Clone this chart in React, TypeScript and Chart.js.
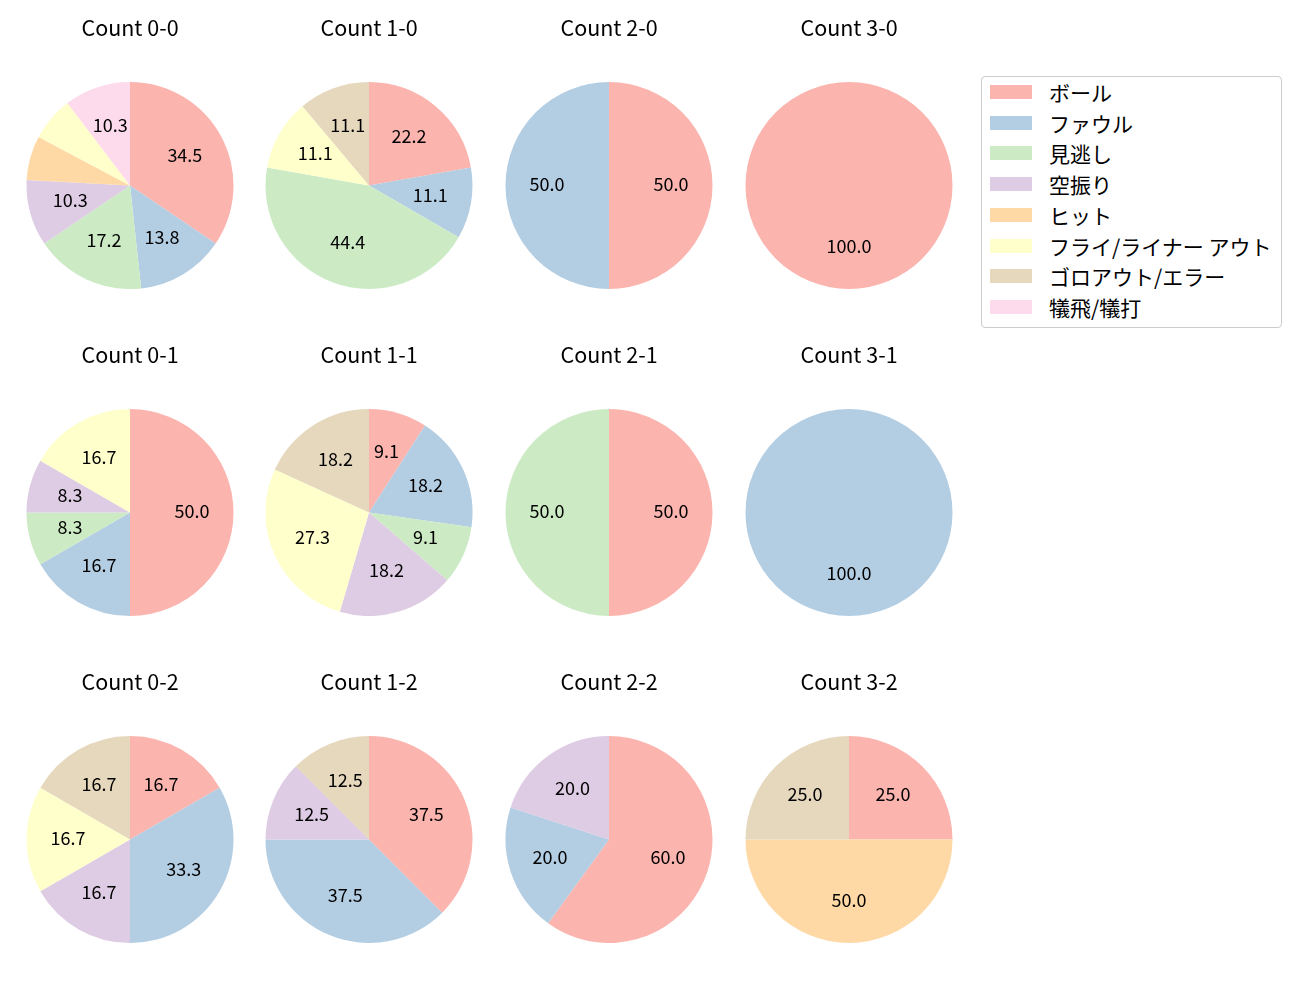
import React, { useEffect, useRef } from "react";
import { Chart, registerables } from "chart.js";
Chart.register(...registerables);

const categories = ["ボール", "ファウル", "見逃し", "空振り", "ヒット", "フライ/ライナー アウト", "ゴロアウト/エラー", "犠飛/犠打"];
const colors = ["#fbb4ae", "#b3cde3", "#ccebc5", "#decbe4", "#fed9a6", "#ffffcc", "#e5d8bd", "#fddaec"];

const titles = [
  "Count 0-0", "Count 1-0", "Count 2-0", "Count 3-0",
  "Count 0-1", "Count 1-1", "Count 2-1", "Count 3-1",
  "Count 0-2", "Count 1-2", "Count 2-2", "Count 3-2",
];

const count00 = [10, 4, 5, 3, 2, 2, 0, 3];
const count10 = [2, 1, 4, 0, 0, 1, 1, 0];
const count20 = [1, 1, 0, 0, 0, 0, 0, 0];
const count30 = [1, 0, 0, 0, 0, 0, 0, 0];
const count01 = [6, 2, 1, 1, 0, 2, 0, 0];
const count11 = [1, 2, 1, 2, 0, 3, 2, 0];
const count21 = [1, 0, 1, 0, 0, 0, 0, 0];
const count31 = [0, 1, 0, 0, 0, 0, 0, 0];
const count02 = [1, 2, 0, 1, 0, 1, 1, 0];
const count12 = [3, 3, 0, 1, 0, 0, 1, 0];
const count22 = [3, 1, 0, 1, 0, 0, 0, 0];
const count32 = [1, 0, 0, 0, 2, 0, 1, 0];

const seriesList = [count00, count10, count20, count30, count01, count11, count21, count31, count02, count12, count22, count32];

const colCenters = [129.5, 369, 609, 848.5];
const rowCenters = [185.5, 512, 839];
const RADIUS = 103.5;
const FONT = "'Noto Sans CJK JP', 'Noto Sans', sans-serif";
const TITLE_SIZE = 21.5;
const LABEL_SIZE = 18;
const LEGEND_SIZE = 21;

const labelPlugin = {
  id: "pieLabels",
  afterDatasetsDraw(chart: any) {
    const ctx = chart.ctx;
    const meta = chart.getDatasetMeta(0);
    const data = chart.data.datasets[0].data as number[];
    const total = data.reduce((a, b) => a + b, 0);
    ctx.save();
    ctx.font = `${LABEL_SIZE}px ${FONT}`;
    ctx.fillStyle = "#000";
    ctx.textAlign = "center";
    ctx.textBaseline = "middle";
    meta.data.forEach((arc: any, i: number) => {
      const v = data[i];
      if (!v) return;
      const pct = (v / total) * 100;
      if (pct < 8) return;
      const { x, y, startAngle, endAngle, outerRadius } = arc.getProps(["x", "y", "startAngle", "endAngle", "outerRadius"], true);
      const mid = (startAngle + endAngle) / 2;
      const r = outerRadius * 0.6;
      ctx.fillText(pct.toFixed(1), x + Math.cos(mid) * r, y + Math.sin(mid) * r - 1.5);
    });
    ctx.restore();
  },
};

const W = 240;
const TOP_BLOCK = 74;

function PieChart({ idx }: { idx: number }) {
  const ref = useRef<HTMLCanvasElement>(null);
  useEffect(() => {
    const lineH = TITLE_SIZE * 1.2;
    const padTop = 20 - lineH / 2;
    const padBottom = TOP_BLOCK - padTop - lineH;
    const chart = new Chart(ref.current!, {
      type: "pie",
      data: {
        labels: categories,
        datasets: [{ data: seriesList[idx], backgroundColor: colors, borderWidth: 0 }],
      },
      options: {
        animation: false,
        responsive: false,
        layout: { padding: 0 },
        plugins: {
          legend: { display: false },
          tooltip: { enabled: false },
          title: {
            display: true,
            text: titles[idx],
            color: "#000",
            font: { size: TITLE_SIZE, family: FONT, weight: "normal", lineHeight: 1.2 },
            padding: { top: padTop, bottom: padBottom },
          },
        },
      },
      plugins: [labelPlugin],
    });
    return () => chart.destroy();
  }, [idx]);
  const col = idx % 4;
  const row = Math.floor(idx / 4);
  const cx = colCenters[col];
  const cy = rowCenters[row];
  const pieTop = cy - RADIUS;
  const canvasTop = pieTop - TOP_BLOCK;
  const h = TOP_BLOCK + RADIUS * 2;
  return (
    <canvas
      ref={ref}
      width={W}
      height={h}
      style={{ position: "absolute", left: cx - W / 2, top: canvasTop, width: W, height: h }}
    />
  );
}

export default function App() {
  return (
    <div style={{ position: "relative", width: 1300, height: 1000, margin: -8, background: "#fff", fontFamily: FONT }}>
      {titles.map((_, i) => (
        <PieChart key={i} idx={i} />
      ))}
      <div
        style={{
          position: "absolute",
          left: 981,
          top: 76,
          width: 301,
          height: 252,
          border: "1px solid #cccccc",
          borderRadius: 4,
          boxSizing: "border-box",
        }}
      >
        {categories.map((c, i) => (
          <div key={c} style={{ position: "absolute", left: 8, top: 7 + i * 30.7, height: 16, display: "flex", alignItems: "center" }}>
            <div style={{ width: 42, height: 14, background: colors[i] }} />
            <span style={{ marginLeft: 17, fontSize: LEGEND_SIZE, color: "#000", whiteSpace: "nowrap", lineHeight: "16px" }}>{c}</span>
          </div>
        ))}
      </div>
    </div>
  );
}
